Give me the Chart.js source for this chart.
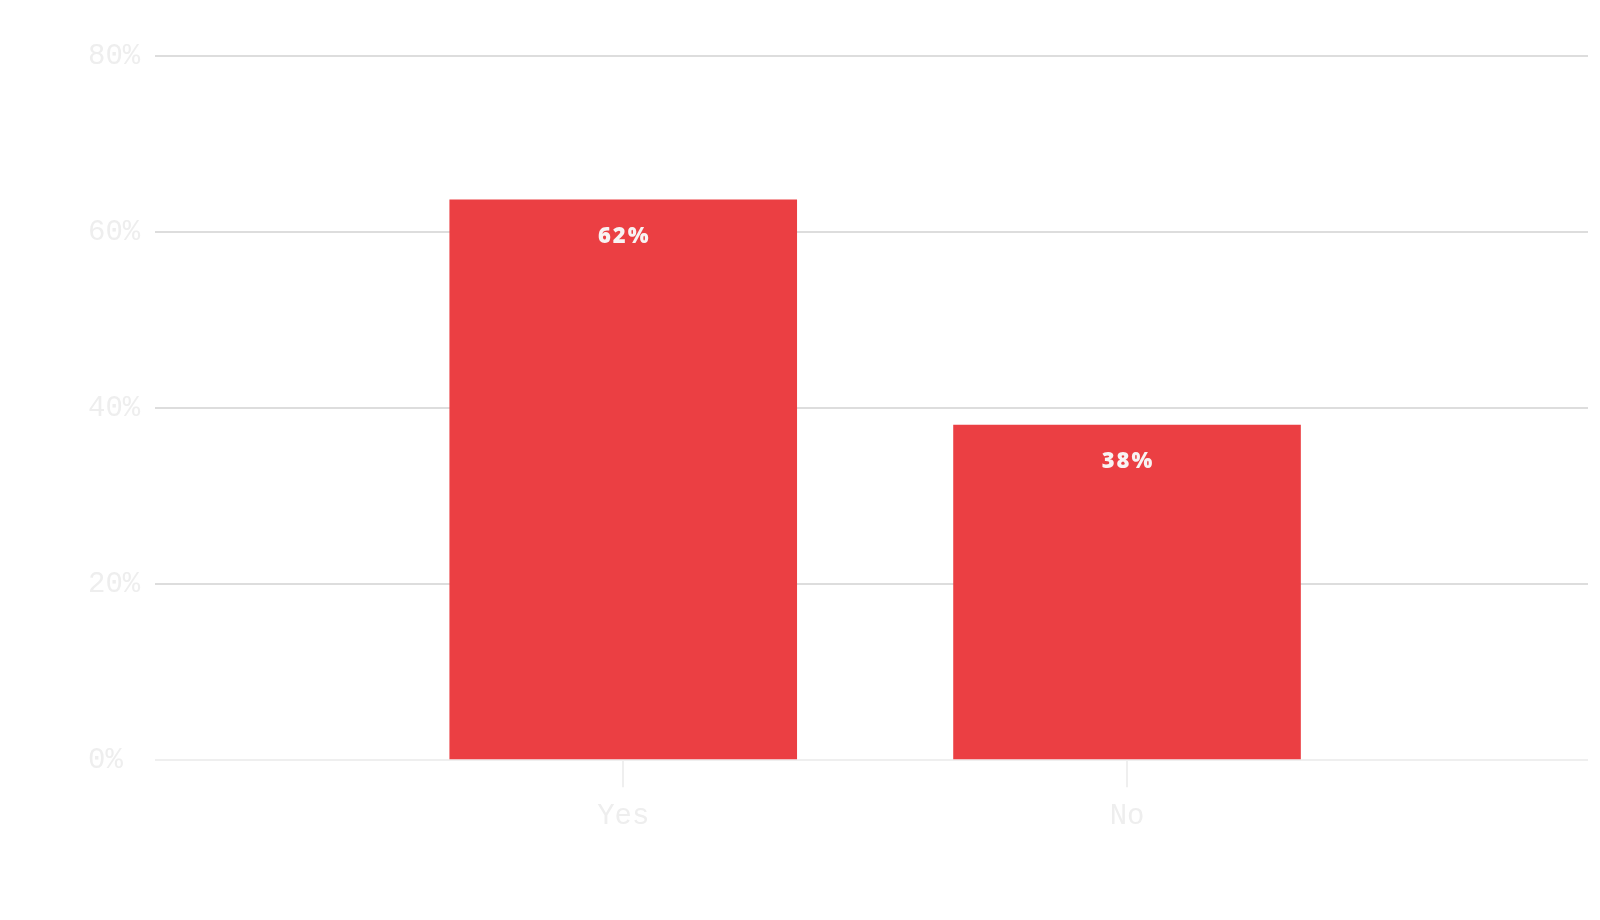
<!DOCTYPE html>
<html>
<head>
<meta charset="utf-8">
<title>Yes / No</title>
<script src="https://cdn.jsdelivr.net/npm/chart.js@4/dist/chart.umd.min.js"></script>
<style>
    html, body { margin: 0; padding: 0; background: #ffffff; }
    #wrap { width: 1600px; height: 920px; }
</style>
</head>
<body>
<div id="wrap"><canvas id="answersChart" width="1600" height="920"></canvas></div>
<script>
// data
const categories = ['Yes', 'No'];
const shares = [63.7, 38.1];
const shareLabels = ['62%', '38%'];
const yTicks = [0, 20, 40, 60, 80];

const barRed = '#eb3f43';
const tickGrey = '#eeeeee';

// writes the value text inside the top of each bar
const barLabels = {
    id: 'barLabels',
    afterDatasetsDraw(chart) {
        const ctx = chart.ctx;
        const meta = chart.getDatasetMeta(0);
        ctx.save();
        ctx.font = '800 22px "Open Sans", sans-serif';
        ctx.letterSpacing = '2px';
        ctx.fillStyle = '#f8f3f3';
        ctx.textAlign = 'center';
        ctx.textBaseline = 'middle';
        meta.data.forEach((bar, i) => {
            ctx.fillText(shareLabels[i], bar.x + 1, bar.y + 37);
        });
        ctx.restore();
    }
};

const ctx = document.getElementById('answersChart').getContext('2d');
new Chart(ctx, {
    type: 'bar',
    data: {
        datasets: [{
            data: categories.map((c, i) => ({ x: i, y: shares[i] })),
            backgroundColor: barRed,
            borderWidth: 0,
            barPercentage: 0.69,
            categoryPercentage: 1
        }]
    },
    options: {
        responsive: false,
        animation: false,
        layout: { padding: { left: 88, right: 12, top: 56, bottom: 74 } },
        plugins: {
            legend: { display: false },
            tooltip: { enabled: false }
        },
        scales: {
            x: {
                type: 'linear',
                offset: false,
                min: -0.929,
                max: 1.915,
                afterBuildTicks: scale => {
                    scale.ticks = categories.map((c, i) => ({ value: i }));
                },
                ticks: {
                    callback: v => categories[v],
                    color: tickGrey,
                    font: { family: '"Liberation Mono", monospace', size: 29 },
                    padding: 12
                },
                grid: {
                    offset: false,
                    drawOnChartArea: false,
                    drawTicks: true,
                    tickLength: 27,
                    color: '#efefef',
                    lineWidth: 2
                },
                border: { display: false }
            },
            y: {
                min: 0,
                max: 80,
                afterBuildTicks: scale => {
                    scale.ticks = yTicks.map(v => ({ value: v }));
                },
                ticks: {
                    callback: v => v + '%',
                    color: tickGrey,
                    crossAlign: 'far',
                    padding: 7.5,
                    font: { family: '"Liberation Mono", monospace', size: 29 }
                },
                grid: {
                    drawTicks: false,
                    lineWidth: 2,
                    color: c => c.tick && c.tick.value === 0 ? '#efefef' : '#dddddd'
                },
                border: { display: false }
            }
        }
    },
    plugins: [barLabels]
});
</script>
</body>
</html>
